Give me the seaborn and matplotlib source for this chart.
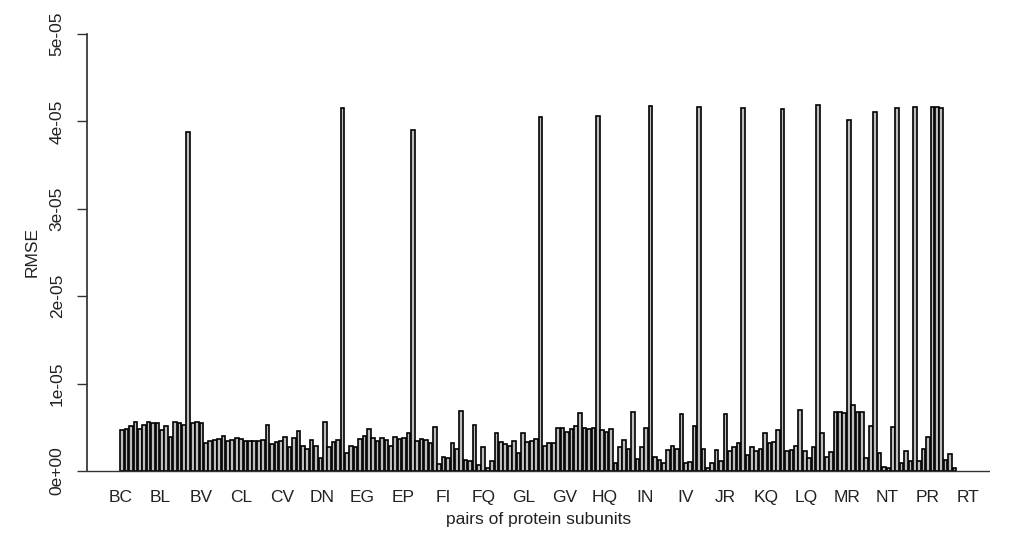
import itertools
import numpy as np
import pandas as pd
import matplotlib
matplotlib.use("Agg")
import matplotlib.pyplot as plt
import seaborn as sns

# ---- data -------------------------------------------------------------
letters = list("BCDEFGHIJKLMNOPQRSTV")
pairs = ["".join(p) for p in itertools.combinations(letters, 2)]  # 190 pairs

# RMSE values in units of 1e-06 (pair order)
rmse_e6 = [
    4.7, 4.8, 5.2, 5.6, 4.8, 5.3, 5.6, 5.5, 5.5, 4.7,
    5.2, 3.9, 5.6, 5.5, 5.3, 38.8, 5.5, 5.6, 5.5, 3.2,
    3.4, 3.5, 3.7, 4.0, 3.4, 3.5, 3.8, 3.7, 3.4, 3.4,
    3.4, 3.4, 3.5, 5.3, 3.1, 3.3, 3.4, 3.9, 2.7, 3.8,
    4.6, 2.9, 2.5, 3.5, 2.9, 1.5, 5.6, 2.8, 3.3, 3.5,
    41.5, 2.1, 2.9, 2.7, 3.7, 4.0, 4.8, 3.8, 3.4, 3.8,
    3.5, 2.9, 3.9, 3.7, 3.8, 4.4, 39.0, 3.4, 3.7, 3.5,
    3.2, 5.0, 0.8, 1.6, 1.5, 3.2, 2.5, 6.9, 1.3, 1.2,
    5.3, 0.7, 2.7, 0.3, 1.1, 4.4, 3.3, 3.1, 2.9, 3.4,
    2.1, 4.3, 3.3, 3.4, 3.7, 40.5, 2.9, 3.2, 3.2, 4.9,
    4.9, 4.5, 4.8, 5.2, 6.6, 4.9, 4.8, 4.9, 40.6, 4.7,
    4.5, 4.8, 0.9, 2.7, 3.5, 2.5, 6.8, 1.4, 2.7, 4.9,
    41.8, 1.6, 1.3, 0.9, 2.4, 2.9, 2.5, 6.5, 0.9, 1.0,
    5.2, 41.7, 2.5, 0.4, 0.9, 2.4, 1.1, 6.5, 2.3, 2.8,
    3.2, 41.5, 1.8, 2.7, 2.3, 2.5, 4.4, 3.2, 3.3, 4.7,
    41.4, 2.3, 2.4, 2.9, 7.0, 2.3, 1.5, 2.7, 41.9, 4.3,
    1.6, 2.2, 6.8, 6.7, 6.6, 40.2, 7.5, 6.7, 6.7, 1.5,
    5.2, 41.1, 2.1, 0.5, 0.4, 5.0, 41.5, 0.9, 2.3, 1.2,
    41.7, 1.2, 2.5, 3.9, 41.7, 41.7, 41.5, 1.3, 1.9, 0.3,
]
rmse = [v * 1e-6 for v in rmse_e6]

tick_labels = ["BC", "BL", "BV", "CL", "CV", "DN", "EG", "EP", "FI", "FQ", "GL",
               "GV", "HQ", "IN", "IV", "JR", "KQ", "LQ", "MR", "NT", "PR", "RT"]
y_ticks = [0, 1e-5, 2e-5, 3e-5, 4e-5, 5e-5]
y_tick_labels = ["0e+00", "1e-05", "2e-05", "3e-05", "4e-05", "5e-05"]

df = pd.DataFrame({"pair": pairs, "rmse": rmse})

# ---- plot -------------------------------------------------------------
sns.set_theme(style="white")
plt.rcParams["font.family"] = ["Liberation Sans", "DejaVu Sans"]

FS = 12.5
TXT = "#222222"

fig = plt.figure(figsize=(10.13, 5.53), dpi=100)
ax = fig.add_axes([0.0859, 0.1166, 0.891, 0.8536])

sns.barplot(data=df, x="pair", y="rmse", order=pairs, color="#bebebe",
            saturation=1, edgecolor="black", linewidth=1.2, width=0.83, ax=ax)

ax.set_xlim(-8, 197)
ax.set_ylim(-0.2e-5, 5.2e-5)

# x labels: evenly spread along the axis, as in the reference
ax.set_xticks(np.linspace(-0.46, 192.1, len(tick_labels)))
ax.set_xticklabels(tick_labels, fontsize=FS, color=TXT)
ax.tick_params(axis="x", length=0, pad=1)

ax.set_yticks(y_ticks)
ax.set_yticklabels(y_tick_labels, rotation=90, va="center", fontsize=FS,
                   color=TXT)
ax.tick_params(axis="y", length=7, width=1, color="#333333", pad=9, left=True)

for s in ["top", "right", "bottom"]:
    ax.spines[s].set_visible(False)
ax.spines["left"].set_bounds(0, 5e-5)
ax.spines["left"].set_color("#333333")
ax.axhline(0, color="#333333", linewidth=1)

ax.set_xlabel("pairs of protein subunits", fontsize=FS, color=TXT, labelpad=5)
ax.set_ylabel("RMSE", fontsize=FS, color=TXT, labelpad=7)
ax.grid(False)

fig.savefig("out.png", dpi=100)
